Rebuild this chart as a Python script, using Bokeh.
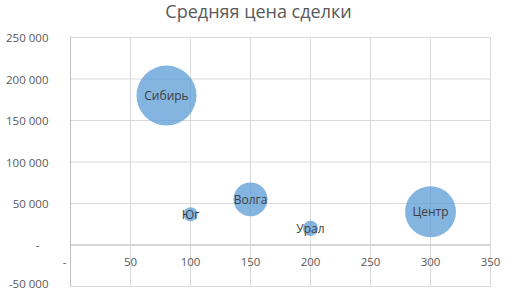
from bokeh.plotting import figure
from bokeh.models import ColumnDataSource, LabelSet, Label, FixedTicker, Range1d
from bokeh.core.properties import value
from bokeh.embed import file_html
from bokeh.resources import INLINE
import math

# ---- data ----
title = "Средняя цена сделки"
regions = ["Сибирь", "Юг", "Волга", "Урал", "Центр"]
x_vals = [80, 100, 150, 200, 300]
avg_price = [180000, 37000, 55000, 20000, 40000]
bubble_vals = [100, 5.4, 32, 6.3, 72]

x_ticks = [0, 50, 100, 150, 200, 250, 300, 350]
x_tick_labels = ["-\u00a0\u00a0\u00a0\u00a0", "50", "100", "150", "200", "250", "300", "350"]
y_ticks = [-50000, 0, 50000, 100000, 150000, 200000, 250000]
y_tick_labels = ["-50 000", "-\u00a0\u00a0\u00a0", "50 000", "100 000", "150 000", "200 000", "250 000"]

FONT = "Open Sans"
MAX_D = 60
vmax = max(bubble_vals)
diam = [MAX_D * math.sqrt(v / vmax) for v in bubble_vals]
x_lo, x_hi = x_ticks[0], x_ticks[-1]
y_lo, y_hi = y_ticks[0], y_ticks[-1]

src = ColumnDataSource(dict(x=x_vals, y=avg_price, name=regions, d=diam))
tick_src = ColumnDataSource(dict(x=x_ticks, y=[0] * len(x_ticks), t=x_tick_labels))

# frame covers the whole height; the area above 250 000 holds the title
p = figure(width=516, height=290, output_backend="svg", toolbar_location=None,
           x_range=Range1d(-10, 360), y_range=Range1d(-52410, 294580),
           min_border_left=58, min_border_right=14, min_border_top=0, min_border_bottom=2)

p.outline_line_color = None
p.background_fill_color = "white"
p.border_fill_color = "white"

p.xaxis.visible = False
p.xgrid.visible = False
p.ygrid.visible = False

ax = p.yaxis[0]
ax.ticker = FixedTicker(ticks=y_ticks)
ax.major_label_overrides = dict(zip(y_ticks, y_tick_labels))
ax.major_tick_line_color = None
ax.minor_tick_line_color = None
ax.axis_line_color = None
ax.major_tick_out = 0
ax.major_label_standoff = 10
ax.major_label_text_font = FONT
ax.major_label_text_font_size = "11.5px"
ax.major_label_text_color = "#595959"

# gridlines (limited to the 0..350 / -50000..250000 box)
p.segment(x0=[x_lo] * len(y_ticks), x1=[x_hi] * len(y_ticks), y0=y_ticks, y1=y_ticks,
          line_color="#D9D9D9", line_width=1)
p.segment(x0=x_ticks, x1=x_ticks, y0=[y_lo] * len(x_ticks), y1=[y_hi] * len(x_ticks),
          line_color="#D9D9D9", line_width=1)
# axis lines at y = 0 and x = 0
p.segment(x0=[x_lo, x_lo], x1=[x_hi, x_lo], y0=[0, y_lo], y1=[0, y_hi],
          line_color="#BFBFBF", line_width=1)

p.scatter("x", "y", size="d", source=src, fill_color="#5B9BD5", fill_alpha=0.75, line_color=None)

p.add_layout(LabelSet(x="x", y="y", text="name", source=src, text_align="center",
                      text_baseline="middle", text_font=value(FONT), text_font_size=value("12px"),
                      text_color=value("#404040")))
p.add_layout(LabelSet(x="x", y="y", text="t", source=tick_src, text_align="center",
                      text_baseline="middle", y_offset=-17, text_font=value(FONT),
                      text_font_size=value("11.5px"), text_color=value("#595959")))

# chart title (page-centred, above the plot box)
p.add_layout(Label(x=156.7, y=y_hi, y_offset=27, text=title, text_align="center",
                   text_baseline="alphabetic", text_font=FONT, text_font_size="18px",
                   text_color="#595959"))

open("out.html", "w").write(file_html(p, INLINE))
